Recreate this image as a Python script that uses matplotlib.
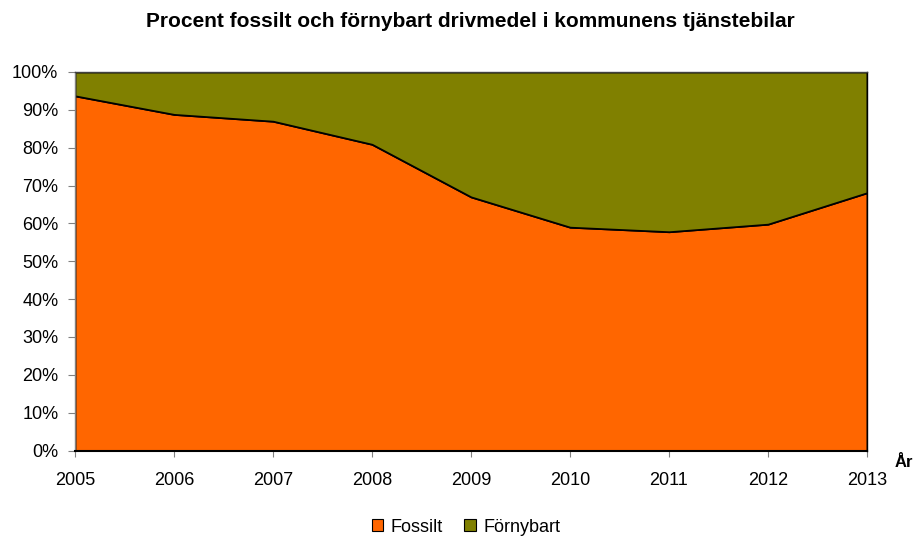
import matplotlib
matplotlib.use("Agg")
import matplotlib.pyplot as plt
from matplotlib.patches import Patch

years = [2005, 2006, 2007, 2008, 2009, 2010, 2011, 2012, 2013]
fossilt = [93.7, 88.8, 87.0, 80.9, 67.0, 59.0, 57.8, 59.8, 68.1]
fornybart = [100 - v for v in fossilt]
series_names = ["Fossilt", "Förnybart"]
colors = ["#FF6600", "#808000"]

plt.rcParams['font.family'] = ['Liberation Sans', 'DejaVu Sans']

fig = plt.figure(figsize=(9.14, 5.43), dpi=100)
ax = fig.add_axes([75/914, 1 - 450.5/543, (867-75)/914, (450.5-72)/543])

x = list(range(len(years)))
ax.stackplot(x, fossilt, fornybart, colors=colors, edgecolor='black', linewidth=1.3)
ax.set_xlim(0, len(years) - 1)
ax.set_ylim(0, 100)
ax.set_xticks(x)
ax.set_xticklabels([str(y) for y in years], fontsize=13)
ax.set_yticks(range(0, 101, 10))
ax.set_yticklabels([f"{v}%" for v in range(0, 101, 10)], fontsize=13)
ax.tick_params(axis='y', direction='out', length=5, color='#808080', pad=7)
ax.tick_params(axis='x', direction='out', length=4.3, color='#808080', pad=11.5)
for s in ax.spines.values():
    s.set_color('black')
    s.set_linewidth(1.0)
ax.spines['left'].set_color('#808080')
ax.spines['top'].set_color('#404040')
ax.spines['bottom'].set_linewidth(1.5)

fig.text(470/914, 1 - 27/543, "Procent fossilt och förnybart drivmedel i kommunens tjänstebilar",
         ha='center', va='baseline', fontsize=15, fontweight='bold')
fig.text(895/914, 1 - 467/543, "År", ha='left', va='baseline', fontsize=12, fontweight='bold')

handles = [Patch(facecolor=c, edgecolor='black', linewidth=0.8) for c in colors]
fig.legend(handles, series_names, loc='center', bbox_to_anchor=(466/914, 1 - 527/543),
           ncol=2, frameon=False, fontsize=13, handlelength=0.65, handleheight=0.65,
           handletextpad=0.4, columnspacing=1.2, borderpad=0)

fig.savefig("out.png", dpi=100)
